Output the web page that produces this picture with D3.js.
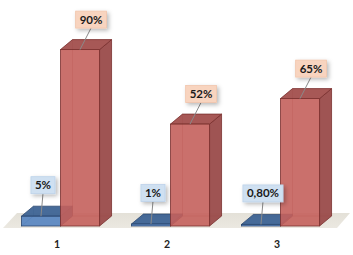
<!DOCTYPE html>
<html><head><meta charset="utf-8">
<script src="https://cdn.jsdelivr.net/npm/d3@7"></script>
<style>html,body{margin:0;padding:0;background:#fff;}svg{display:block;}</style>
</head><body><svg id="c" width="353" height="255"></svg>
<script>
const categories = ["1", "2", "3"];
const seriesNames = ["Série 1", "Série 2"];
const blueValues = [5, 1, 0.8];
const redValues = [90, 52, 65];
const blueLabels = ["5%", "1%", "0,80%"];
const redLabels = ["90%", "52%", "65%"];

const svg = d3.select("#c");
const DX = 12, DY = -10;
const base = 226;

const x0 = d3.scaleBand().domain(categories).range([5.5, 335.5]).paddingInner(0.29).paddingOuter(0.145);
const x1 = d3.scaleBand().domain(seriesNames).range([0, x0.bandwidth()]);
const y = d3.scaleLinear().domain([0, 100]).range([base, 30]);

const defs = svg.append("defs");
const f = defs.append("filter").attr("id", "sh").attr("x", "-30%").attr("y", "-30%").attr("width", "180%").attr("height", "180%");
f.append("feDropShadow").attr("dx", 2).attr("dy", 2).attr("stdDeviation", 2).attr("flood-color", "#000").attr("flood-opacity", 0.28);
const fg = defs.append("linearGradient").attr("id", "floor").attr("x1", 0).attr("y1", 0).attr("x2", 0).attr("y2", 1);
fg.append("stop").attr("offset", 0).attr("stop-color", "#e4e1d8");
fg.append("stop").attr("offset", 1).attr("stop-color", "#ebe8e1");

// floor
const [r0, r1] = x0.range();
const fl = r0 - 2.5, fr = r1 + 1.5, fy = base + 2, fd = 15;
svg.append("path")
  .attr("d", `M${fl},${fy} L${fr},${fy} L${fr + 13},${fy - fd} L${fl + 14},${fy - fd} Z`)
  .attr("fill", "url(#floor)");

const styles = {
  "Série 1": { front: "#5483c0", top: "#3d6394", side: "#35577f", stroke: "#2b4870" },
  "Série 2": { front: "#c4605c", top: "#a24f4d", side: "#9a4b4a", stroke: "#7a302e" }
};

function box(g, x, w, yTop, st) {
  const yb = base;
  g.append("path")
    .attr("d", `M${x + DX},${yTop + DY} L${x + DX},${yb + DY} L${x + w + DX},${yb + DY} M${x},${yb} L${x + DX},${yb + DY}`)
    .attr("fill", "none").attr("stroke", st.stroke).attr("stroke-opacity", 0.5).attr("stroke-width", 0.8);
  g.append("path")
    .attr("d", `M${x + w},${yTop} L${x + w + DX},${yTop + DY} L${x + w + DX},${yb + DY} L${x + w},${yb} Z`)
    .attr("fill", st.side).attr("fill-opacity", 0.95).attr("stroke", st.stroke).attr("stroke-width", 0.8);
  g.append("path")
    .attr("d", `M${x},${yTop} L${x + DX},${yTop + DY} L${x + w + DX},${yTop + DY} L${x + w},${yTop} Z`)
    .attr("fill", st.top).attr("fill-opacity", 0.95).attr("stroke", st.stroke).attr("stroke-width", 0.8);
  g.append("rect").attr("x", x).attr("y", yTop).attr("width", w).attr("height", yb - yTop)
    .attr("fill", st.front).attr("fill-opacity", 0.9).attr("stroke", st.stroke).attr("stroke-width", 0.8);
}

const bars = svg.append("g");
categories.forEach((c, i) => {
  const gx = x0(c);
  box(bars.append("g"), gx + x1(seriesNames[0]), x1.bandwidth(), y(blueValues[i]), styles[seriesNames[0]]);
  box(bars.append("g"), gx + x1(seriesNames[1]), x1.bandwidth(), y(redValues[i]), styles[seriesNames[1]]);
});

const labelsG = svg.append("g");
function label(cx, topY, text, offX, offY, fill, border) {
  const bx = cx + offX, by = topY + offY;
  labelsG.append("line").attr("x1", cx).attr("y1", topY).attr("x2", bx).attr("y2", by + 8.5)
    .attr("stroke", "#8a8a8a").attr("stroke-width", 1);
  const g = labelsG.append("g");
  const r = g.append("rect").attr("fill", fill).attr("stroke", border).attr("stroke-width", 0.8).attr("filter", "url(#sh)");
  const t = g.append("text").attr("x", bx).attr("y", by + 4).attr("text-anchor", "middle")
    .attr("font-family", "Lato, 'Open Sans', sans-serif").attr("font-weight", 700).attr("font-size", 11.5)
    .attr("fill", "#1a1a1a").text(text);
  const w = t.node().getComputedTextLength() + 8;
  r.attr("x", bx - w / 2).attr("y", by - 8.5).attr("width", w).attr("height", 17);
}
categories.forEach((c, i) => {
  const gx = x0(c);
  const bw = x1.bandwidth();
  label(gx + x1(seriesNames[0]) + bw / 2, y(blueValues[i]), blueLabels[i], 2, -31, "#cfe0f1", "#bcd2ea");
  label(gx + x1(seriesNames[1]) + bw / 2, y(redValues[i]), redLabels[i], 11, -30, "#f8d4bf", "#f1c4aa");
});

svg.append("g").selectAll("text").data(categories).join("text")
  .attr("x", d => x0(d) + x0.bandwidth() / 2 - 3.5)
  .attr("y", 248)
  .attr("text-anchor", "middle")
  .attr("font-family", "Lato, 'Open Sans', sans-serif").attr("font-weight", 700).attr("font-size", 10.5)
  .attr("fill", "#222")
  .text(d => d);
</script></body></html>
